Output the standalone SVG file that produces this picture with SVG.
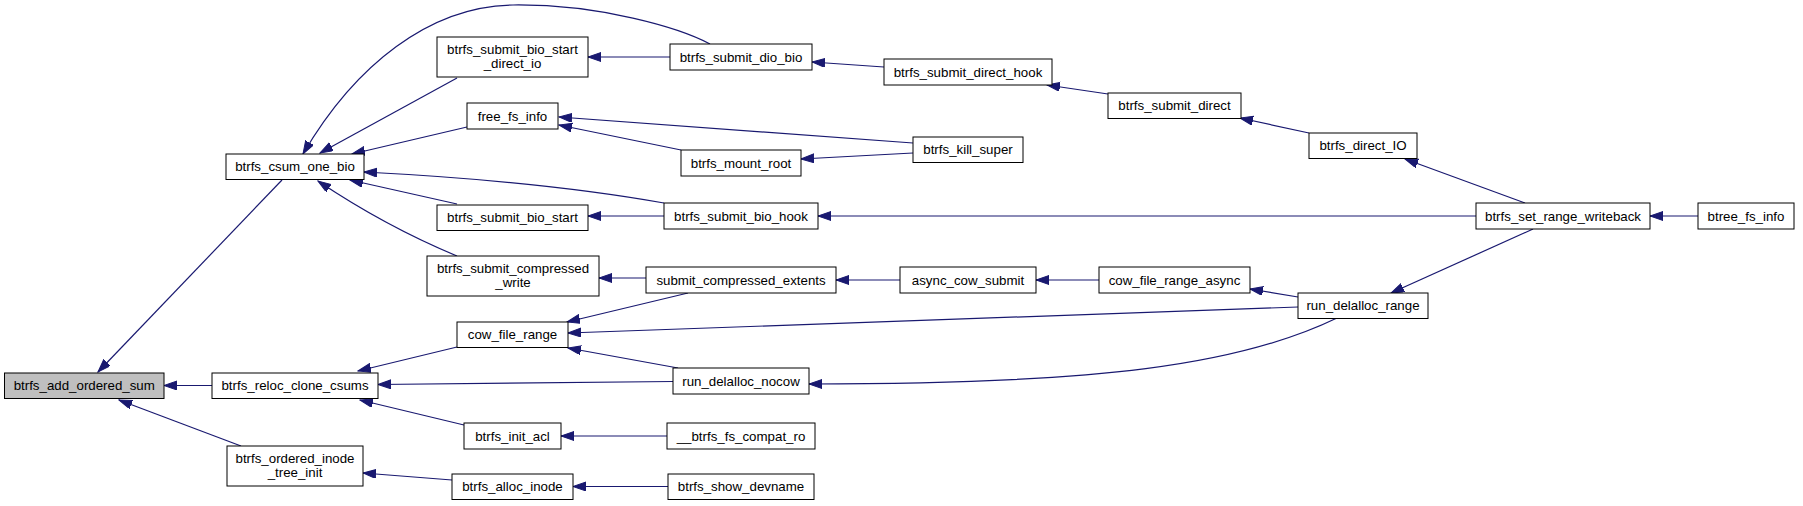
<svg xmlns="http://www.w3.org/2000/svg" width="1803" height="506" viewBox="0 0 1803 506">
<style>
.n rect{fill:#fff;stroke:#000;stroke-width:1}
.n text{font-family:"Liberation Sans",Arial,Helvetica,sans-serif;font-size:13.3px;fill:#000;text-anchor:middle}
.e path{fill:none;stroke:#191970;stroke-width:1.2;marker-end:url(#ah)}
</style>
<defs>
<marker id="ah" markerUnits="userSpaceOnUse" markerWidth="14" markerHeight="10" refX="13" refY="4.5" orient="auto">
<path d="M0,0 L13,4.5 L0,9 Z" fill="#191970" stroke="#191970" stroke-width="1"/>
</marker>
</defs>
<rect width="1803" height="506" fill="#fff"/>
<g id="edges" class="e">
<path d="M282,180 L98,372"/>
<path d="M212,385.5 L164,385.5"/>
<path d="M241,446 L119,400"/>
<path d="M710,44 C680,28 600,4 513,5 C430,6 355,65 303,154"/>
<path d="M457,78 L320,153"/>
<path d="M467,127 L352,154"/>
<path d="M664,203 Q540,181 364,172"/>
<path d="M457,204 L350,180"/>
<path d="M457,256 Q385,226 318,181"/>
<path d="M670,57 L588,57"/>
<path d="M884,67 L812,62"/>
<path d="M1108,94 L1047,85"/>
<path d="M1309,133 L1240,118"/>
<path d="M1525,203 L1405,159"/>
<path d="M1698,216 L1650,216"/>
<path d="M913,143 L559,117"/>
<path d="M681,150 L559,125"/>
<path d="M913,153 L801,159"/>
<path d="M664,216 L588,216"/>
<path d="M1476,216 L818,216"/>
<path d="M1533,229 L1391,293"/>
<path d="M646,278 L599,278"/>
<path d="M900,280 L836,280"/>
<path d="M1099,280 L1036,280"/>
<path d="M1298,297 L1250,289"/>
<path d="M688,293 L567,322"/>
<path d="M1298,307 L568,333"/>
<path d="M678,368 L568,348"/>
<path d="M1337,318 C1240,365 1100,384 809,384"/>
<path d="M457,347 L358,371"/>
<path d="M673,381.5 L378,384.5"/>
<path d="M464,425 L360,400"/>
<path d="M667,436 L561,436"/>
<path d="M452,480 L363,473"/>
<path d="M668,486.5 L573,486.5"/>
</g>
<g id="btrfs_add_ordered_sum" class="n"><rect x="4.5" y="373" width="159.5" height="25.5" style="fill:#bfbfbf"/><text x="84.25" y="390">btrfs_add_ordered_sum</text></g>
<g id="btrfs_csum_one_bio" class="n"><rect x="226" y="154" width="138" height="25.5"/><text x="295" y="171">btrfs_csum_one_bio</text></g>
<g id="btrfs_reloc_clone_csums" class="n"><rect x="212" y="373" width="166" height="25.5"/><text x="295" y="390">btrfs_reloc_clone_csums</text></g>
<g id="btrfs_ordered_inode_tree_init" class="n"><rect x="227" y="446" width="136" height="40"/><text x="295" y="463">btrfs_ordered_inode</text><text x="295" y="477">_tree_init</text></g>
<g id="btrfs_submit_bio_start_direct_io" class="n"><rect x="437" y="37" width="151" height="40"/><text x="512.5" y="54">btrfs_submit_bio_start</text><text x="512.5" y="68">_direct_io</text></g>
<g id="free_fs_info" class="n"><rect x="467" y="103" width="91" height="26"/><text x="512.5" y="120.5">free_fs_info</text></g>
<g id="btrfs_submit_bio_start" class="n"><rect x="437" y="205" width="151" height="25.5"/><text x="512.5" y="222">btrfs_submit_bio_start</text></g>
<g id="btrfs_submit_compressed_write" class="n"><rect x="427" y="256" width="172" height="40"/><text x="513" y="273">btrfs_submit_compressed</text><text x="513" y="287">_write</text></g>
<g id="cow_file_range" class="n"><rect x="457" y="322" width="111" height="25.5"/><text x="512.5" y="339">cow_file_range</text></g>
<g id="btrfs_init_acl" class="n"><rect x="464" y="423" width="97" height="26"/><text x="512.5" y="440.5">btrfs_init_acl</text></g>
<g id="btrfs_alloc_inode" class="n"><rect x="452" y="474" width="121" height="25.5"/><text x="512.5" y="491">btrfs_alloc_inode</text></g>
<g id="btrfs_submit_dio_bio" class="n"><rect x="670" y="44" width="142" height="26"/><text x="741" y="61.5">btrfs_submit_dio_bio</text></g>
<g id="btrfs_mount_root" class="n"><rect x="681" y="150" width="120" height="26"/><text x="741" y="167.5">btrfs_mount_root</text></g>
<g id="btrfs_submit_bio_hook" class="n"><rect x="664" y="203" width="154" height="26"/><text x="741" y="220.5">btrfs_submit_bio_hook</text></g>
<g id="submit_compressed_extents" class="n"><rect x="646" y="267" width="190" height="26"/><text x="741" y="284.5">submit_compressed_extents</text></g>
<g id="run_delalloc_nocow" class="n"><rect x="673" y="368" width="136" height="26"/><text x="741" y="385.5">run_delalloc_nocow</text></g>
<g id="__btrfs_fs_compat_ro" class="n"><rect x="667" y="423" width="148" height="26"/><text x="741" y="440.5">__btrfs_fs_compat_ro</text></g>
<g id="btrfs_show_devname" class="n"><rect x="668" y="474" width="146" height="25.5"/><text x="741" y="491">btrfs_show_devname</text></g>
<g id="btrfs_submit_direct_hook" class="n"><rect x="884" y="59" width="168" height="26"/><text x="968" y="76.5">btrfs_submit_direct_hook</text></g>
<g id="btrfs_kill_super" class="n"><rect x="913" y="137" width="110" height="25.5"/><text x="968" y="154">btrfs_kill_super</text></g>
<g id="async_cow_submit" class="n"><rect x="900" y="267" width="136" height="26"/><text x="968" y="284.5">async_cow_submit</text></g>
<g id="btrfs_submit_direct" class="n"><rect x="1108" y="93" width="133" height="25.5"/><text x="1174.5" y="110">btrfs_submit_direct</text></g>
<g id="cow_file_range_async" class="n"><rect x="1099" y="267" width="151" height="26"/><text x="1174.5" y="284.5">cow_file_range_async</text></g>
<g id="btrfs_direct_IO" class="n"><rect x="1309" y="133" width="108" height="25.5"/><text x="1363" y="150">btrfs_direct_IO</text></g>
<g id="run_delalloc_range" class="n"><rect x="1298" y="293" width="130" height="25.5"/><text x="1363" y="310">run_delalloc_range</text></g>
<g id="btrfs_set_range_writeback" class="n"><rect x="1476" y="203" width="174" height="26"/><text x="1563" y="220.5">btrfs_set_range_writeback</text></g>
<g id="btree_fs_info" class="n"><rect x="1698" y="203" width="96" height="26"/><text x="1746" y="220.5">btree_fs_info</text></g>
</svg>
